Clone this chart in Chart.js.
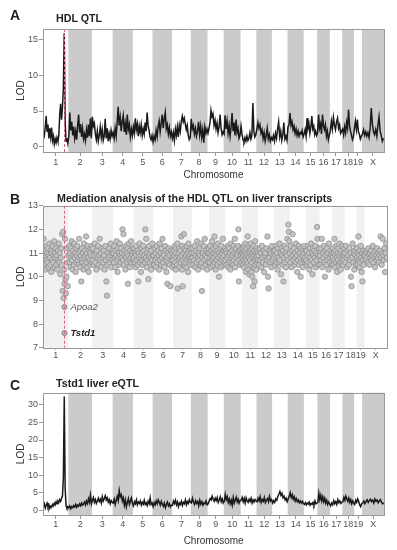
<!DOCTYPE html>
<html>
<head>
<meta charset="utf-8">
<script src="https://cdn.jsdelivr.net/npm/chart.js@4.4.1/dist/chart.umd.min.js"></script>
<style>
  body { margin: 0; background: #fff; font-family: "Liberation Sans", Arial, sans-serif; }
  #fig { position: relative; width: 397px; height: 550px; overflow: hidden; }
  canvas { position: absolute; left: 0; }
  .tag { position: absolute; font-weight: bold; font-size: 14px; line-height: 1; color: #222; }
  .ttl { position: absolute; font-weight: bold; font-size: 10.7px; line-height: 1; color: #222; white-space: nowrap; }
</style>
</head>
<body>
<div id="fig">
  <canvas id="hdlChart" width="397" height="185" style="top:0"></canvas>
  <canvas id="mediationChart" width="397" height="175" style="top:185px"></canvas>
  <canvas id="eqtlChart" width="397" height="190" style="top:360px"></canvas>
  <div class="tag" style="left:10px;top:8px">A</div>
  <div class="ttl" style="left:56px;top:13px">HDL QTL</div>
  <div class="tag" style="left:10px;top:192px">B</div>
  <div class="ttl" style="left:57px;top:193px">Mediation analysis of the HDL QTL on liver transcripts</div>
  <div class="tag" style="left:10px;top:378px">C</div>
  <div class="ttl" style="left:56px;top:378px">Tstd1 liver eQTL</div>
</div>
<script>
// chromosomes and their lengths (Mb)
const chrNames = ['1','2','3','4','5','6','7','8','9','10','11','12','13','14','15','16','17','18','19','X'];
const chrLengths = [195.5, 182.1, 160.0, 156.5, 151.8, 149.7, 145.4, 129.4, 124.6, 130.7,
                    122.1, 120.1, 120.4, 124.9, 104.0, 98.2, 95.3, 90.7, 61.4, 171.0];
const apoa2Pos = 164; // Mb on chr1, dashed line

// A: HDL QTL scan, LOD along each chromosome
const hdlLod = [
  [2.0,1.6,2.8,4.3,2.2,3.1,1.2,2.6,1.4,2.7,0.9,1.5,0.4,1.1,0.6,1.3,0.8,1.6,4.5,6.0,3.8,5.5,8.0,15.8,3.5,0.8,1.2,0.5],
  [1.5,4.8,2.3,3.5,1.6,2.8,1.2,2.2,1.0,3.0,4.5,2.0,3.2,1.4,2.6,1.1,1.8,0.9,2.4,1.3,3.1,1.5,4.0,1.2],
  [4.2,2.9,3.3,1.8,1.0,2.2,0.8,1.6,2.8,1.3,2.4,0.9,1.5,3.9,1.2,2.6,0.8,1.9,1.1,2.3,1.5],
  [2.0,1.2,2.6,1.5,3.4,5.6,3.0,4.1,2.2,3.6,4.4,2.1,3.3,1.7,4.5,2.4,3.1,1.4,2.5,1.6],
  [2.8,1.9,4.0,2.4,3.2,1.5,2.9,2.0,3.1,1.6,2.5,1.8,3.4,2.2,4.8,3.0,2.3,1.4,1.0,1.6],
  [0.7,1.5,1.0,2.3,1.4,2.8,3.6,2.1,3.3,4.5,2.6,3.9,4.8,2.5,3.1,1.8,2.7,1.5,2.1],
  [1.2,2.0,0.9,2.5,1.6,2.8,1.4,3.0,2.2,3.6,4.3,3.5,4.0,3.2,2.4,3.0,1.6,1.0,1.3],
  [3.9,2.5,3.0,1.8,2.6,1.5,2.2,3.5,1.7,2.9,1.3,2.4,0.6,2.8,1.9,2.5],
  [1.9,2.6,3.4,5.1,4.2,4.6,3.0,3.7,2.5,3.3,2.0,2.8,4.5,2.6,1.7,2.1],
  [1.8,4.4,2.5,3.6,1.9,3.0,1.5,2.7,4.7,2.2,3.4,1.6,3.8,2.0,2.6,1.2,1.6],
  [2.9,1.8,1.0,0.7,1.3,0.8,1.5,0.9,1.2,2.0,1.1,1.6,6.1,2.2,1.4,1.7],
  [2.5,3.4,2.6,3.1,1.9,2.4,1.2,2.0,0.8,1.6,2.6,1.1,1.7,0.8,1.3],
  [1.0,1.6,0.8,1.9,1.2,2.5,3.5,1.4,2.2,0.9,1.7,3.4,1.1,1.5,0.9],
  [2.8,3.1,4.7,3.0,3.5,2.4,2.9,1.9,2.5,1.6,2.2,1.5,2.0,1.8,2.3,1.4],
  [1.8,2.4,1.5,4.0,2.6,3.2,1.9,2.8,4.3,2.5,2.9,1.7,2.2,1.6],
  [2.0,4.5,2.6,3.2,1.8,4.5,3.0,2.4,3.1,1.5,2.2,1.0,1.6],
  [2.3,3.6,2.5,4.1,3.0,2.4,3.5,4.0,2.6,3.1,1.9,2.2],
  [2.5,1.7,2.8,2.0,3.4,2.6,5.2,3.0,2.2,1.6,1.0,1.4],
  [2.6,3.6,2.4,3.8,2.1,1.8,1.1,1.5],
  [1.8,2.4,1.6,2.1,1.5,2.0,1.3,2.6,5.4,3.2,2.1,1.7,2.4,1.5,3.0,4.2,2.2,1.6,0.8,1.2]
];

// B: LOD of the HDL QTL after conditioning on each liver transcript
const mediationLod = [
  [10.8,11.6,10.5,11.1,10.9,10.3,11.3,10.7,11.0,10.6,11.2,10.4,10.9,11.4,10.8,10.5,11.1,10.2,11.0,10.7,
   11.3,10.6,10.9,11.5,10.4,11.0,10.8,11.2,10.5,10.9,10.3,11.1,10.7,11.4,10.6,11.0,10.1,10.8,11.2,10.5,11.8,
   9.4,11.9,9.1,10.3,9.7,11.6,9.9,9.3,10.0,11.2,10.6,9.6,10.9],
  [10.9,11.3,10.6,11.0,10.4,11.2,10.8,11.5,10.7,10.3,11.1,10.9,10.5,11.4,10.8,11.0,10.2,11.2,10.6,10.9,
   11.3,10.7,11.0,10.5,11.6,10.8,10.4,11.1,10.9,9.8,10.7,11.2,10.6,11.0,10.3,11.4,10.8,10.5,11.1,10.9,
   11.7,10.6,11.0,10.4,11.3,10.8,10.2,11.1,10.7,11.0,10.5,11.2,10.9,10.6,11.3],
  [10.7,11.2,10.5,10.9,11.4,10.6,11.0,10.3,11.1,10.8,11.3,10.5,10.9,11.6,10.7,11.0,10.4,11.2,10.8,10.6,
   11.1,10.9,10.3,11.3,10.7,9.8,9.2,10.5,11.0,10.8,11.2,10.6,10.9,11.4,10.4,11.0,10.7,11.1],
  [11.0,10.6,11.3,10.8,10.4,11.1,10.9,11.5,10.7,10.2,11.2,10.8,11.0,10.5,11.4,10.9,10.6,11.2,10.8,11.0,
   12.0,10.7,11.8,10.5,11.1,10.9,10.3,11.3,10.8,11.0,10.6,11.2,9.7,10.9,11.4,10.7,10.4,11.1,10.8,11.5,
   10.6,11.0,10.9,11.2,10.7],
  [10.8,11.2,10.6,11.0,10.4,11.3,10.9,10.7,11.1,10.5,9.8,11.0,10.8,11.4,10.6,10.9,10.2,11.2,10.7,11.0,
   10.5,11.3,10.8,10.9,11.1,10.6,12.0,10.8,11.6,10.4,11.0,10.7,11.2,9.9,10.9,11.3,10.6,11.0,10.8,10.3,
   11.1,10.7,11.4,10.9,10.5],
  [10.9,10.5,11.2,10.7,11.0,10.4,11.3,10.8,10.6,11.1,10.9,10.3,11.4,10.7,11.0,10.5,11.2,10.8,11.6,10.6,
   11.0,10.9,10.4,11.3,10.7,11.1,10.2,10.8,9.7,11.0,10.6,11.2,10.9,10.5,9.6,11.1,10.7,11.0,10.4,10.8],
  [10.7,11.1,10.5,10.9,11.3,10.6,11.0,10.3,11.2,10.8,10.5,11.4,9.5,10.9,11.0,10.7,11.2,10.4,10.8,11.1,
   10.6,11.7,10.9,10.3,11.3,9.6,10.7,11.0,11.8,10.5,11.2,10.8,10.6,11.1,10.9,10.4,11.3,10.7,11.0,10.2,
   11.4,10.8,10.6,11.1,10.9,10.5,11.2,10.7,11.0,10.8],
  [10.8,11.2,10.5,11.0,10.7,11.3,10.4,10.9,11.1,10.6,11.5,10.8,10.3,11.0,10.7,11.2,10.9,10.5,11.4,10.6,
   9.4,10.8,11.0,10.4,11.3,10.7,11.6,10.9,10.5,11.1,10.8,10.3,11.0,10.6,11.2],
  [11.0,10.6,11.3,10.8,10.4,11.1,10.9,11.5,10.7,11.0,10.5,11.2,10.8,11.7,10.6,11.0,10.3,11.3,10.9,10.7,
   11.1,10.5,11.4,10.8,10.0,11.0,10.6,11.2,10.9,10.4,11.3,10.7,11.0,10.8,11.6,10.5,11.1,10.9,10.6,11.2],
  [10.7,11.1,10.5,11.0,10.8,11.3,10.4,10.9,11.2,10.6,11.0,10.3,11.4,10.8,10.6,11.1,10.9,10.5,11.3,10.7,
   11.0,11.6,10.4,11.2,10.8,10.6,11.0,10.9,11.3,12.0,9.8,10.7,11.1,10.5,10.9,11.2,10.6,11.0],
  [10.8,11.2,10.5,11.0,10.7,11.3,10.4,10.9,11.1,10.6,11.4,10.8,10.2,11.0,10.7,11.2,10.5,10.9,11.7,10.6,
   11.0,10.3,11.3,10.8,10.1,11.1,10.7,11.0,10.5,11.4,10.9,10.2,11.2,10.6,10.0,11.0,10.8,9.6,11.3,10.4,
   10.9,11.1,9.8,10.7,11.5,10.5,11.0,10.8,10.3,11.2,10.9,10.6,11.1,10.7,11.0],
  [10.9,10.5,11.2,10.7,11.0,10.4,11.3,10.8,10.6,11.1,10.2,10.9,11.0,10.5,11.2,10.7,11.7,10.0,9.5,10.8,
   11.1,10.6,11.0,10.4,11.3,10.7,10.9,11.1],
  [10.8,11.1,10.5,10.9,11.3,10.6,11.0,10.3,11.2,10.8,10.6,11.4,10.7,11.0,10.1,11.2,10.9,10.5,11.1,9.8,
   10.8,11.3,10.6,11.0,10.4,11.2,10.9,11.6,10.7,12.2,11.9,11.5],
  [11.0,10.6,11.3,10.8,10.4,11.1,11.8,10.9,10.7,11.2,10.5,11.0,10.8,11.4,10.6,10.9,10.2,11.1,10.7,11.3,
   10.5,11.0,10.8,10.0,11.2,10.6,10.9,11.1,10.4,11.0,10.7,11.3,10.8,10.6,11.1],
  [10.7,11.1,10.5,10.9,11.3,10.6,11.0,10.3,11.2,10.8,10.5,11.4,10.7,11.0,10.1,11.2,10.9,10.6,11.1,10.8,
   11.3,10.4,11.0,10.7,12.1,11.6,10.9,10.5,11.2,10.8],
  [10.9,10.5,11.2,10.7,11.6,10.4,11.0,10.8,11.3,10.6,10.0,11.1,10.9,10.5,11.2,10.7,11.0,10.3,11.4,10.8,
   10.6,11.1,10.9,10.5,11.0],
  [10.8,11.2,10.5,11.0,10.7,11.6,10.4,10.9,11.1,10.6,11.3,10.8,10.2,11.0,10.7,11.2,10.5,10.9,11.4,10.6,
   11.0,10.3,11.1,10.8,10.6,11.3,10.9,10.5,11.0,10.7,11.2,10.9],
  [11.0,10.6,11.3,10.8,10.4,11.1,10.9,10.5,11.2,10.7,11.0,10.0,9.6,10.8,11.4,10.6,11.0,10.3,11.1,10.9,
   10.5,11.2],
  [10.8,11.2,10.5,11.0,11.7,10.7,10.9,10.4,11.1,10.6,11.3,10.8,10.2,11.0,9.8,10.7,11.1,10.5,10.9,11.0],
  [10.9,10.7,11.1,10.8,11.0,10.6,11.2,10.9,10.5,11.0,10.8,11.1,10.7,10.9,11.3,10.6,11.0,10.8,10.4,11.1,
   10.9,10.7,11.2,10.8,11.0,10.6,10.9,11.1,11.7,10.8,10.5,11.0,11.6,10.9,10.7,11.2,10.2,11.0,11.4,10.8]
];
const geneNames = ['Apoa2', 'Tstd1'];
const geneLod = [8.72, 7.62];

// C: Tstd1 liver eQTL scan
const tstd1Lod = [
  [1.0,1.8,0.6,1.4,2.0,0.9,1.5,0.5,1.1,0.8,1.6,1.2,2.0,1.5,2.4,1.8,2.6,2.2,3.0,2.5,3.4,4.0,9.0,32.4,6.0,1.2,0.6,1.0],
  [0.6,1.2,0.4,1.0,0.7,1.3,0.9,1.6,0.8,1.4,1.1,1.8,1.2,2.0,1.4,1.7,2.3,1.5,2.6,1.9,3.2,2.2,4.3,1.8],
  [2.8,3.6,2.2,3.0,1.9,2.6,3.4,2.5,3.1,2.0,3.8,2.6,3.3,4.1,2.9,3.5,2.3,3.0,1.8,2.7,2.2],
  [2.0,3.1,1.6,2.8,3.9,2.7,5.6,3.8,4.4,2.6,3.5,1.4,2.9,0.9,2.2,3.3,1.6,2.6,3.5,1.9],
  [1.2,2.4,1.8,2.9,1.5,2.3,1.9,2.6,1.4,2.2,1.7,2.8,1.6,2.1,1.3,2.5,1.8,3.5,1.6,2.0],
  [1.0,2.1,1.5,2.6,1.8,2.9,2.2,1.4,2.5,1.7,1.1,2.0,0.7,1.6,2.3,1.2,1.8,0.9,1.4],
  [1.4,2.6,1.9,2.8,1.5,2.3,1.0,2.0,1.6,2.5,1.3,2.2,1.8,2.9,1.5,2.4,1.9,3.0,2.2],
  [2.0,3.4,2.3,1.6,2.7,1.9,2.5,1.2,2.8,1.7,2.4,1.4,2.1,1.8,2.6,1.5],
  [1.8,2.6,3.3,2.9,4.0,3.1,2.5,3.4,2.7,3.6,2.2,2.9,3.8,2.4,3.2,2.0],
  [2.5,4.5,3.0,3.8,2.2,3.2,1.8,2.8,1.4,3.6,2.0,2.9,3.7,2.3,3.1,2.0,2.7],
  [2.8,3.6,2.4,3.3,2.0,3.5,2.6,2.2,3.1,2.5,3.4,2.0,2.9,2.3,3.0,2.6],
  [2.4,3.4,2.6,3.8,2.2,3.0,2.5,3.6,2.1,2.8,3.3,2.4,3.9,2.6,3.0],
  [2.0,2.7,2.2,3.2,2.8,3.9,4.5,5.3,4.2,4.8,3.5,4.0,2.9,3.4,2.4],
  [3.2,4.0,5.0,3.6,4.4,3.1,3.8,2.6,3.3,2.4,2.9,2.1,2.6,2.0,2.5,1.9],
  [1.6,2.1,1.5,2.0,1.7,2.3,1.4,1.9,1.6,2.2,1.5,2.6,1.8,2.0],
  [2.2,4.8,3.0,4.2,2.6,3.8,2.4,3.4,2.0,2.8,1.6,2.3,1.8],
  [1.2,2.0,1.5,2.7,1.8,2.4,1.6,3.0,2.1,2.6,1.9,2.3],
  [2.4,3.6,2.8,4.0,3.2,2.5,3.4,2.2,3.0,1.8,2.6,2.0],
  [1.6,2.8,2.2,3.2,2.5,1.5,1.0,1.8],
  [2.0,2.6,1.8,2.4,2.9,2.2,2.7,3.1,2.4,2.8,2.0,3.2,2.5,2.9,2.1,2.6,3.0,2.3,1.8,2.1]
];

const chrStarts = [];
let genomeLength = 0;
chrLengths.forEach(len => { chrStarts.push(genomeLength); genomeLength += len; });
const chrMids = chrLengths.map((len, i) => chrStarts[i] + len / 2);

function toPoints(perChr) {
  const pts = [];
  perChr.forEach((vals, c) => {
    vals.forEach((v, i) => {
      pts.push({ x: chrStarts[c] + (i + 0.5) / vals.length * chrLengths[c], y: v });
    });
  });
  return pts;
}

Chart.defaults.font.family = '"Liberation Sans", Arial, sans-serif';
Chart.defaults.color = '#444';

// chromosome bands, dashed Apoa2 line, plot frame and gene labels
const genomePlot = {
  id: 'genomePlot',
  beforeDatasetsDraw(chart, args, opts) {
    const { ctx, chartArea: a, scales: { x } } = chart;
    ctx.save();
    ctx.fillStyle = opts.bandColor;
    chrLengths.forEach((len, i) => {
      const shaded = opts.shadeOdd ? i % 2 === 0 : i % 2 === 1;
      if (!shaded) return;
      const x0 = x.getPixelForValue(chrStarts[i]);
      const x1 = x.getPixelForValue(chrStarts[i] + len);
      ctx.fillRect(x0, a.top, x1 - x0, a.bottom - a.top);
    });
    ctx.restore();
  },
  afterDatasetsDraw(chart, args, opts) {
    const { ctx, chartArea: a, scales: { x, y } } = chart;
    ctx.save();
    if (opts.marker) {
      const px = Math.round(x.getPixelForValue(apoa2Pos)) + 0.5;
      ctx.strokeStyle = '#dc6478';
      ctx.lineWidth = 1;
      ctx.setLineDash([3, 2]);
      ctx.beginPath();
      ctx.moveTo(px, a.top);
      ctx.lineTo(px, a.bottom);
      ctx.stroke();
      ctx.setLineDash([]);
    }
    if (opts.genes) {
      geneNames.forEach((g, i) => {
        ctx.font = (i === 1 ? 'italic bold ' : 'italic ') + '9.5px "Liberation Sans", Arial, sans-serif';
        ctx.fillStyle = i === 1 ? '#222' : '#555';
        ctx.textBaseline = 'middle';
        ctx.fillText(g, x.getPixelForValue(apoa2Pos) + 6, y.getPixelForValue(geneLod[i]));
      });
    }
    ctx.strokeStyle = '#999';
    ctx.lineWidth = 1;
    ctx.strokeRect(Math.round(a.left) + 0.5, Math.round(a.top) + 0.5,
      Math.round(a.right - a.left), Math.round(a.bottom - a.top));
    ctx.restore();
  }
};

function xAxis(height, tickLen, pad, title) {
  return {
    type: 'linear', min: 0, max: genomeLength,
    afterBuildTicks: s => { s.ticks = chrMids.map(v => ({ value: v })); },
    afterFit: s => { s.height = height; },
    ticks: { autoSkip: false, maxRotation: 0, padding: pad, color: '#555', font: { size: 9 },
      callback: (v, i) => chrNames[i] },
    grid: { drawOnChartArea: false, tickLength: tickLen, color: '#999' },
    border: { display: false },
    title: { display: !!title, text: 'Chromosome', color: '#333', font: { size: 10 },
      padding: { top: 0, bottom: title || 0 } }
  };
}

function yAxis(min, max, tickVals) {
  return {
    min: min, max: max,
    afterBuildTicks: s => { s.ticks = tickVals.map(v => ({ value: v })); },
    afterFit: s => { s.width = 43; },
    ticks: { padding: 1, color: '#555', font: { size: 9 } },
    grid: { drawOnChartArea: false, tickLength: 4, color: '#999' },
    border: { display: false },
    title: { display: true, text: 'LOD', color: '#333', font: { size: 10 }, padding: { top: 15, bottom: 0 } }
  };
}

function baseOptions(padding, xs, ys, plot) {
  return {
    responsive: false,
    animation: false,
    layout: { padding: padding },
    scales: { x: xs, y: ys },
    plugins: { legend: { display: false }, tooltip: { enabled: false }, genomePlot: plot }
  };
}

new Chart(document.getElementById('hdlChart'), {
  type: 'line',
  data: { datasets: [{ data: toPoints(hdlLod), borderColor: '#1a1a1a', borderWidth: 1.5,
    pointRadius: 0, tension: 0 }] },
  options: baseOptions({ top: 29, right: 13, left: 0, bottom: 0 },
    xAxis(33, 4, 1, 4), yAxis(-0.7, 16.4, [0, 5, 10, 15]),
    { bandColor: '#cbcbcb', shadeOdd: false, marker: true }),
  plugins: [genomePlot]
});

new Chart(document.getElementById('mediationChart'), {
  type: 'scatter',
  data: { datasets: [
    { data: geneLod.map(v => ({ x: apoa2Pos, y: v })), pointRadius: 2.6,
      backgroundColor: '#b4b4b4', borderColor: '#7a7a7a', borderWidth: 0.7 },
    { data: toPoints(mediationLod), pointRadius: 2.7,
      backgroundColor: '#c3c3c3', borderColor: '#878787', borderWidth: 0.7 }
  ] },
  options: baseOptions({ top: 20.7, right: 10, left: 0, bottom: 0 },
    xAxis(12.3, 2, 0, 0), yAxis(7, 13, [7, 8, 9, 10, 11, 12, 13]),
    { bandColor: '#eff2f1', shadeOdd: true, marker: true, genes: true }),
  plugins: [genomePlot]
});

new Chart(document.getElementById('eqtlChart'), {
  type: 'line',
  data: { datasets: [{ data: toPoints(tstd1Lod), borderColor: '#1a1a1a', borderWidth: 1.5,
    pointRadius: 0, tension: 0 }] },
  options: baseOptions({ top: 32.7, right: 12.7, left: 0, bottom: 0 },
    xAxis(35, 4, 0, 2.3), yAxis(-1.4, 33.5, [0, 5, 10, 15, 20, 25, 30]),
    { bandColor: '#cbcbcb', shadeOdd: false, marker: false }),
  plugins: [genomePlot]
});
</script>
</body>
</html>
